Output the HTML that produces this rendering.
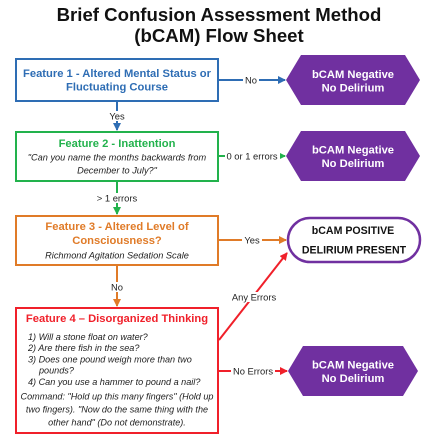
<!DOCTYPE html>
<html><head><meta charset="utf-8"><style>
html,body{margin:0;padding:0;background:#fff;}
svg{display:block;font-family:"Liberation Sans",Arial,sans-serif;}
</style></head><body>
<svg width="442" height="442" viewBox="0 0 442 442" xmlns="http://www.w3.org/2000/svg">
<defs>
<marker id="ab" markerWidth="8" markerHeight="8" refX="7" refY="4" orient="auto" markerUnits="userSpaceOnUse"><path d="M0,0 L8,4 L0,8 Z" fill="#2e6db4"/></marker>
<marker id="ag" markerWidth="8" markerHeight="8" refX="7" refY="4" orient="auto" markerUnits="userSpaceOnUse"><path d="M0,0 L8,4 L0,8 Z" fill="#22b24c"/></marker>
<marker id="ao" markerWidth="8" markerHeight="8" refX="7" refY="4" orient="auto" markerUnits="userSpaceOnUse"><path d="M0,0 L8,4 L0,8 Z" fill="#e07b28"/></marker>
<marker id="ar" markerWidth="8" markerHeight="8" refX="7" refY="4" orient="auto" markerUnits="userSpaceOnUse"><path d="M0,0 L8,4 L0,8 Z" fill="#f0202a"/></marker>
</defs>
<g font-weight="bold" font-size="18.6" text-anchor="middle" fill="#111">
<text x="219" y="21">Brief Confusion Assessment Method</text>
<text x="219" y="42">(bCAM) Flow Sheet</text>
</g>
<g stroke-width="2" fill="none">
<line x1="219" y1="80" x2="285" y2="80" stroke="#2e6db4" marker-end="url(#ab)"/>
<line x1="117" y1="102" x2="117" y2="130" stroke="#2e6db4" marker-end="url(#ab)"/>
<line x1="219" y1="156" x2="285" y2="156" stroke="#22b24c" marker-end="url(#ag)"/>
<line x1="117" y1="182" x2="117" y2="214" stroke="#22b24c" marker-end="url(#ag)"/>
<line x1="219" y1="240" x2="286" y2="240" stroke="#e07b28" marker-end="url(#ao)"/>
<line x1="117" y1="265" x2="117" y2="306" stroke="#e07b28" marker-end="url(#ao)"/>
<line x1="219" y1="340" x2="287" y2="253" stroke="#f0202a" marker-end="url(#ar)"/>
<line x1="219" y1="371" x2="287" y2="371" stroke="#f0202a" marker-end="url(#ar)"/>
</g>
<g font-size="9.4" fill="#222" text-anchor="middle">
<rect x="243" y="75" width="16" height="10" fill="#fff"/><text x="251" y="83.5">No</text>
<rect x="107" y="111" width="20" height="10" fill="#fff"/><text x="117" y="119.5">Yes</text>
<rect x="225" y="151" width="55" height="10" fill="#fff"/><text x="252" y="159.5">0 or 1 errors</text>
<rect x="95" y="193" width="44" height="10" fill="#fff"/><text x="117" y="201.5">&gt; 1 errors</text>
<rect x="242" y="235" width="20" height="10" fill="#fff"/><text x="252" y="243.5">Yes</text>
<rect x="109" y="282" width="16" height="10" fill="#fff"/><text x="117" y="290.5">No</text>
<rect x="228" y="292" width="52" height="10" fill="#fff"/><text x="254" y="300.5">Any Errors</text>
<rect x="231" y="366" width="44" height="10" fill="#fff"/><text x="253" y="374.5">No Errors</text>
</g>
<rect x="16" y="59" width="202" height="42" fill="#fff" stroke="#2e6db4" stroke-width="2"/>
<g font-weight="bold" font-size="11.2" fill="#2e6db4" text-anchor="middle">
<text x="117" y="77">Feature 1 - Altered Mental Status or</text>
<text x="117" y="90.5">Fluctuating Course</text>
</g>
<rect x="16" y="132" width="202" height="49" fill="#fff" stroke="#22b24c" stroke-width="2"/>
<text x="117" y="147" font-weight="bold" font-size="11.2" fill="#22b24c" text-anchor="middle">Feature 2 - Inattention</text>
<g font-style="italic" font-size="9.2" fill="#222" text-anchor="middle">
<text x="117" y="160.5">"Can you name the months backwards from</text>
<text x="117" y="173.5">December to July?"</text>
</g>
<rect x="16" y="216" width="202" height="49" fill="#fff" stroke="#e07b28" stroke-width="2"/>
<g font-weight="bold" font-size="11.2" fill="#e07b28" text-anchor="middle">
<text x="117" y="230">Feature 3 - Altered Level of</text>
<text x="117" y="244">Consciousness?</text>
</g>
<text x="117" y="258.5" font-style="italic" font-size="9.2" fill="#222" text-anchor="middle">Richmond Agitation Sedation Scale</text>
<rect x="16" y="308" width="202" height="125" fill="#fff" stroke="#f0202a" stroke-width="2"/>
<text x="117" y="322" font-weight="bold" font-size="11.2" fill="#f0202a" text-anchor="middle">Feature 4 – Disorganized Thinking</text>
<g font-style="italic" font-size="9.1" fill="#222">
<text x="28" y="340">1) Will a stone float on water?</text>
<text x="28" y="351">2) Are there fish in the sea?</text>
<text x="28" y="362.5">3) Does one pound weigh more than two</text>
<text x="39" y="373.5">pounds?</text>
<text x="28" y="385">4) Can you use a hammer to pound a nail?</text>
</g>
<g font-style="italic" font-size="9.1" fill="#222" text-anchor="middle">
<text x="117" y="399.5">Command: "Hold up this many fingers" (Hold up</text>
<text x="117" y="412.5">two fingers).  "Now do the same thing with the</text>
<text x="117" y="425.5">other hand" (Do not demonstrate).</text>
</g>
<g fill="#7030a0">
<polygon points="286,80 301,55 405,55 420,80 405,105 301,105"/>
<polygon points="286,156 301,131 405,131 420,156 405,181 301,181"/>
<polygon points="288,371 303,346 403,346 418,371 403,396 303,396"/>
</g>
<g font-weight="bold" font-size="11.2" fill="#fff" text-anchor="middle">
<text x="353" y="78">bCAM Negative</text><text x="353" y="91.5">No Delirium</text>
<text x="353" y="153.5">bCAM Negative</text><text x="353" y="167">No Delirium</text>
<text x="353" y="368.5">bCAM Negative</text><text x="353" y="382">No Delirium</text>
</g>
<rect x="288" y="218" width="132" height="44" rx="22" fill="#fff" stroke="#7030a0" stroke-width="2.5"/>
<g font-weight="bold" font-size="10.6" fill="#111" text-anchor="middle">
<text x="353" y="234">bCAM POSITIVE</text>
<text x="354" y="253.5">DELIRIUM PRESENT</text>
</g>
</svg>
</body></html>
